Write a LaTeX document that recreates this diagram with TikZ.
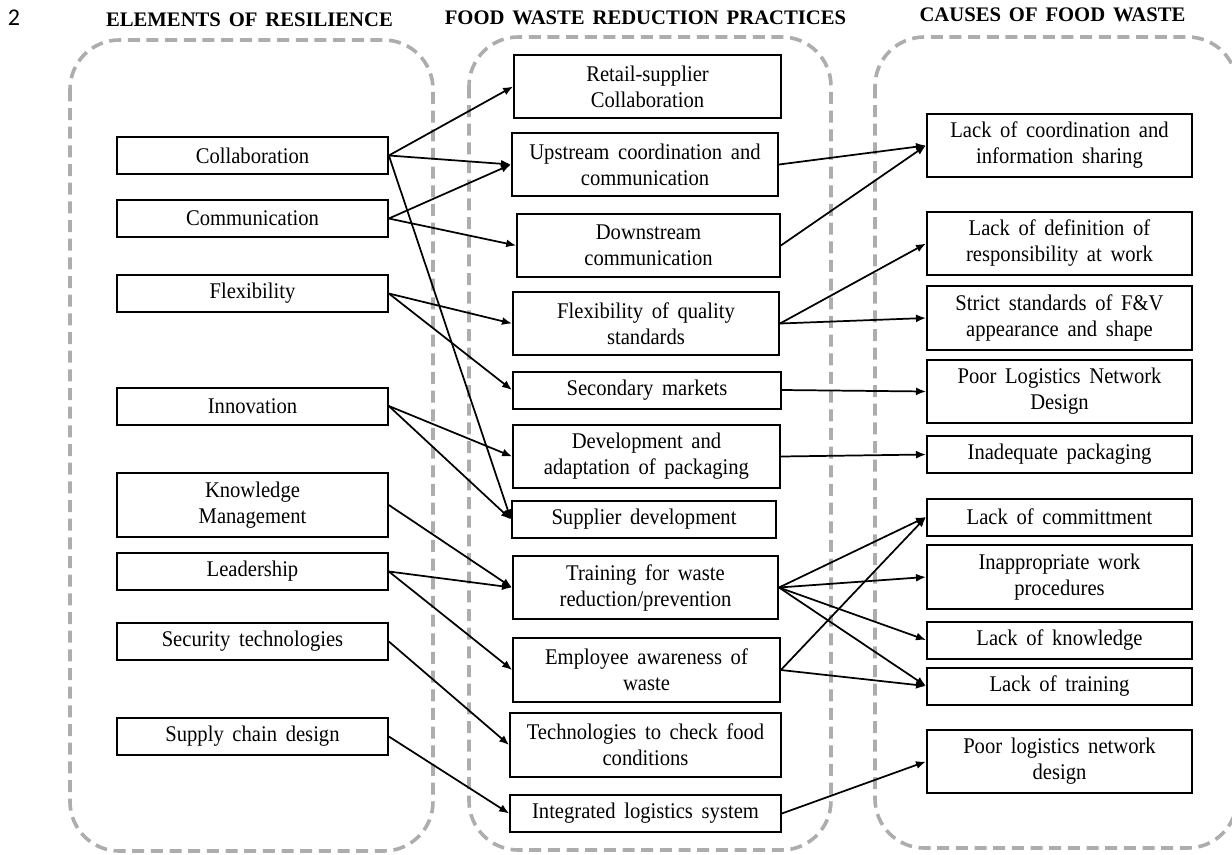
\documentclass[tikz,border=0pt]{standalone}
\usepackage{fontspec}
\setmainfont{Liberation Serif}
\newfontfamily\tallfont{Liberation Serif}[FakeStretch=0.92]
\newfontfamily\numfont{Carlito}
\usetikzlibrary{arrows.meta}
\newcommand\myboxfont{\tallfont\fontsize{16.8}{19.5}\selectfont\spaceskip=6.5pt\relax}
\newcommand\myheadfont{\bfseries\fontsize{15.5}{18}\selectfont\spaceskip=0.38em\relax}
\begin{document}
\begin{tikzpicture}[x=0.75pt,y=-0.75pt,
 box/.style={draw, line width=1.5pt, align=center, inner sep=1pt, fill=white,
   font=\myboxfont, minimum height=27.75pt},
 two/.style={minimum height=47.5pt},
 lw/.style={box, minimum width=203pt},
 rw/.style={box, minimum width=198.75pt},
 arr/.style={line width=1.3pt, -{Latex[length=7.5pt,width=6pt]}},
 group/.style={draw=black!32, line width=2.7pt, dash pattern=on 9pt off 5pt, rounded corners=37pt},
 head/.style={font=\myheadfont, inner sep=0pt}]
\useasboundingbox (0,0) rectangle (1232,854);
\fill[white] (0,0) rectangle (1232,854);

% groups
\draw[group] (70,40) rectangle (433,851);
\draw[group] (469,37) rectangle (831,850);
\draw[group] (875,37) rectangle (1237,848);

% headings
\node[inner sep=0pt, font=\numfont\fontsize{18}{20}\selectfont] (num) at (14,18) {2};
\node[head] (h1) at (249.5,20) {ELEMENTS OF RESILIENCE};
\node[head] (h2) at (645.5,18) {FOOD WASTE REDUCTION PRACTICES};
\node[head] (h3) at (1052.5,15) {CAUSES OF FOOD WASTE};

% left column
\node[lw] (collab) at (252.5,155.5) {Collaboration};
\node[lw] (commu) at (252.5,218.5) {Communication};
\node[lw] (flex) at (252.5,293.5) {Flexibility};
\node[lw] (innov) at (252.5,406) {Innovation};
\node[lw,two] (km) at (252.5,505) {Knowledge\\Management};
\node[lw] (lead) at (252.5,571.5) {Leadership};
\node[lw] (sec) at (252.5,641.5) {Security technologies};
\node[lw] (scd) at (252.5,736.5) {Supply chain design};

% middle column
\node[box,two,minimum width=200pt] (retail) at (647.5,86.5) {Retail-supplier\\Collaboration};
\node[box,two,minimum width=199.5pt] (up) at (645,164.5) {Upstream coordination and\\communication};
\node[box,two,minimum width=197pt] (down) at (648.5,245.5) {Downstream\\communication};
\node[box,two,minimum width=199.5pt] (fqs) at (646,323.5) {Flexibility of quality\\standards};
\node[box,minimum width=201pt] (sm) at (647,390) {Secondary markets};
\node[box,two,minimum width=200pt] (dev) at (646.5,456.5) {Development and\\adaptation of packaging};
\node[box,minimum width=198pt] (sd) at (644,519.5) {Supplier development};
\node[box,two,minimum width=198.75pt] (train) at (645.5,587.5) {Training for waste\\reduction/prevention};
\node[box,two,minimum width=200pt] (emp) at (646.5,670) {Employee awareness of\\waste};
\node[box,two,minimum width=203pt] (tech) at (645.5,745) {Technologies to check food\\conditions};
\node[box,minimum width=203pt] (ils) at (645.5,813.5) {Integrated logistics system};

% right column
\node[rw,two] (lcis) at (1059.5,145.5) {Lack of coordination and\\information sharing};
\node[rw,two] (ldr) at (1059.5,243.5) {Lack of definition of\\responsibility at work};
\node[rw,two] (ssfv) at (1059.5,318) {Strict standards of F\&V\\appearance and shape};
\node[rw,two] (plnd) at (1059.5,391.5) {Poor Logistics Network\\Design};
\node[rw] (ip) at (1059.5,454.5) {Inadequate packaging};
\node[rw] (lc) at (1059.5,517) {Lack of committment};
\node[rw,two] (iwp) at (1059.5,577) {Inappropriate work\\procedures};
\node[rw] (lk) at (1059.5,640) {Lack of knowledge};
\node[rw] (lt) at (1059.5,686) {Lack of training};
\node[rw,two] (plnd2) at (1059.5,761.5) {Poor logistics network\\design};

% left -> middle
\draw[arr] (collab.east) -- (retail.west);
\draw[arr] (collab.east) -- (up.west);
\draw[arr] (collab.east) -- (sd.west);
\draw[arr] (commu.east) -- (up.west);
\draw[arr] (commu.east) -- (down.west);
\draw[arr] (flex.east) -- (fqs.west);
\draw[arr] (flex.east) -- (sm.west);
\draw[arr] (innov.east) -- (dev.west);
\draw[arr] (innov.east) -- (sd.west);
\draw[arr] (km.east) -- (train.west);
\draw[arr] (lead.east) -- (train.west);
\draw[arr] (lead.east) -- (emp.west);
\draw[arr] (sec.east) -- (tech.west);
\draw[arr] (scd.east) -- (ils.west);

% middle -> right
\draw[arr] (up.east) -- (lcis.west);
\draw[arr] (down.east) -- (lcis.west);
\draw[arr] (fqs.east) -- (ldr.west);
\draw[arr] (fqs.east) -- (ssfv.west);
\draw[arr] (sm.east) -- (plnd.west);
\draw[arr] (dev.east) -- (ip.west);
\draw[arr] (train.east) -- (lc.west);
\draw[arr] (train.east) -- (iwp.west);
\draw[arr] (train.east) -- (lk.west);
\draw[arr] (train.east) -- (lt.west);
\draw[arr] (emp.east) -- (lc.west);
\draw[arr] (emp.east) -- (lt.west);
\draw[arr] (ils.east) -- (plnd2.west);
\end{tikzpicture}
\end{document}
